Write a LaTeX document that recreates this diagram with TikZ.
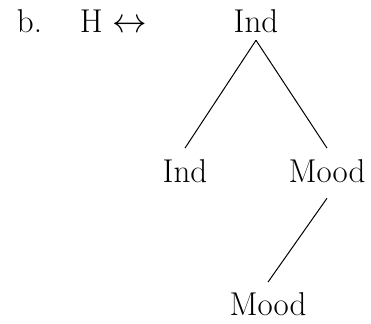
\documentclass[tikz,border=0pt]{standalone}
\begin{document}
\begin{tikzpicture}[x=0.5pt,y=-0.5pt,
  lbl/.style={inner sep=0pt,outer sep=0pt,anchor=base,font=\fontsize{16.5}{20}\selectfont},
  edge/.style={line width=0.5pt}]
\useasboundingbox (0,0) rectangle (371,324);
\node[lbl,anchor=base west] (b) at (17,33) {b.};
\node[lbl,anchor=base west] (h) at (80,33) {H $\leftrightarrow$};
\node[lbl] (top) at (256,33) {Ind};
\node[lbl] (left) at (185,183) {Ind};
\node[lbl] (right) at (327,183) {Mood};
\node[lbl] (bottom) at (268,316) {Mood};
\draw[edge] ([yshift=-3.5pt]top.south) -- ([yshift=6pt]left.north);
\draw[edge] ([yshift=-3.5pt]top.south) -- ([yshift=6pt]right.north);
\draw[edge] ([yshift=-7.5pt]right.south) -- ([yshift=5.5pt]bottom.north);
\end{tikzpicture}
\end{document}
